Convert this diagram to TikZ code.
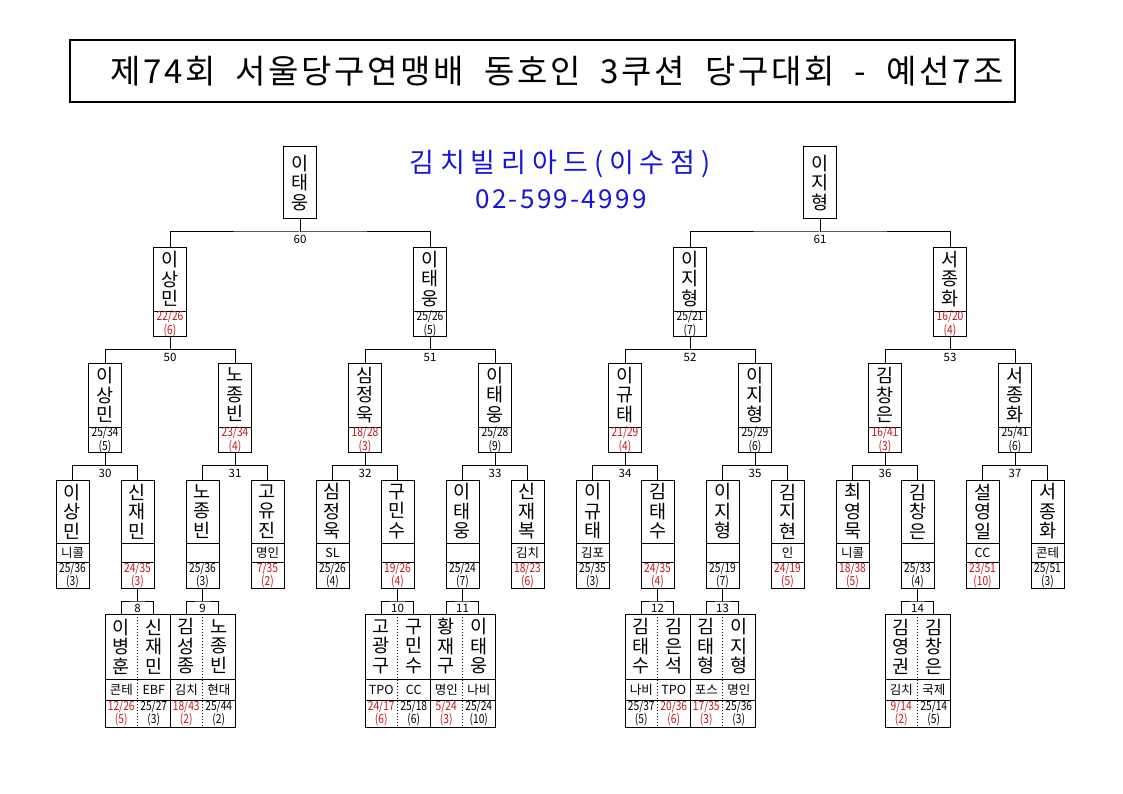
\documentclass[tikz,border=0pt]{standalone}
\usepackage{fontspec}
\setmainfont{Noto Sans CJK KR}
\newfontfamily\titlefont[LetterSpace=8,WordSpace=2]{Noto Sans CJK KR}
\newfontfamily\shopfont[LetterSpace=22]{Noto Sans CJK KR}
\newfontfamily\phonefont[LetterSpace=9]{Noto Sans CJK KR}
\newfontfamily\scorefont[FakeStretch=0.82]{Noto Sans CJK KR}
\usetikzlibrary{positioning}
\definecolor{shopblue}{RGB}{20,20,220}
\definecolor{lossred}{RGB}{200,20,30}
\tikzset{
  box/.style={draw, outer sep=0pt, inner sep=0pt, minimum width=33pt, align=center},
  namebox/.style={box, minimum height=64pt, font=\fontsize{18.5}{19.5}\selectfont},
  clubbox/.style={box, minimum height=19pt, font=\fontsize{12.5}{13}\selectfont},
  scorebox/.style={box, minimum height=25pt, font=\scorefont\fontsize{12.5}{11.5}\selectfont},
  cell/.style={outer sep=0pt, inner sep=0pt, minimum width=32.5pt, align=center},
  cellname/.style={cell, minimum height=65pt, font=\fontsize{18.5}{19.5}\selectfont},
  cellclub/.style={cell, minimum height=21pt, font=\fontsize{12.5}{13}\selectfont},
  cellscore/.style={cell, minimum height=27pt, font=\scorefont\fontsize{12.5}{11.5}\selectfont},
  matchno/.style={inner sep=1pt, font=\fontsize{11.5}{11.5}\selectfont},
}
%% seeded box: id, x, top, name, score, colour
\newcommand{\seed}[6]{%
  \node[namebox, anchor=north] (#1) at (#2,#3) {#4};
  \node[scorebox, text=#6, below=0pt of #1] (#1s) {#5};}
%% first round box: id, x, name, club, score, colour
\newcommand{\entrant}[6]{%
  \node[namebox, minimum height=63pt, anchor=north] (#1) at (#2,480) {#3};
  \node[clubbox, below=0pt of #1] (#1c) {#4};
  \node[scorebox, minimum height=26pt, text=#6, below=0pt of #1c] (#1s) {#5};}
%% half of a qualifying pair: id, x, anchor, name, club, score, colour
\newcommand{\pairhalf}[7]{%
  \node[cellname, anchor=#3] (#1) at (#2,614) {#4};
  \node[cellclub, below=0pt of #1] (#1c) {#5};
  \node[cellscore, text=#7, below=0pt of #1c] (#1s) {#6};}
\newcommand{\pairframe}[2]{%
  \draw (#1.north west) rectangle (#2s.south east);
  \draw (#1.south west) -- (#2.south east);
  \draw (#1c.south west) -- (#2c.south east);
  \draw[dotted] (#1.north east) -- (#1s.south east);}
%% bracket: parent, left child, right child, match number
\newcommand{\bracket}[4]{%
  \draw (#1.south) -- ++(0,13) coordinate (j#4);
  \draw (#2.north) |- (j#4) -| (#3.north);
  \node[matchno, below=2pt] at (j#4) {#4};}
\begin{document}
\begin{tikzpicture}[x=1pt, y=-1pt, line width=1pt]
\useasboundingbox (0,0) rectangle (1123,794);
%% Title
\node[draw, line width=2pt, minimum width=945pt, minimum height=62pt, inner sep=0pt] (titlebox) at (542.5,71) {};
\node[font=\titlefont\fontsize{33}{33}\selectfont] (titletext) at (557,71) {제74회 서울당구연맹배 동호인 3쿠션 당구대회 - 예선7조};
\node[text=shopblue, font=\shopfont\fontsize{27}{27}\selectfont] (shop) at (560,164) {김치빌리아드(이수점)};
\node[text=shopblue, font=\phonefont\fontsize{26}{26}\selectfont] (phone) at (561,199) {02-599-4999};
%% Final
\node[namebox, minimum height=72pt, anchor=north] (m60) at (300,147) {이\\태\\웅};
\node[namebox, minimum height=72pt, anchor=north] (m61) at (820,147) {이\\지\\형};
%% Second level
\seed{m50}{170}{247}{이\\상\\민}{22/26\\(6)}{lossred}
\seed{m51}{430}{247}{이\\태\\웅}{25/26\\(5)}{black}
\seed{m52}{690}{247}{이\\지\\형}{25/21\\(7)}{black}
\seed{m53}{950}{247}{서\\종\\화}{16/20\\(4)}{lossred}
%% Third level
\seed{m30}{105}{363}{이\\상\\민}{25/34\\(5)}{black}
\seed{m31}{235}{363}{노\\종\\빈}{23/34\\(4)}{lossred}
\seed{m32}{365}{363}{심\\정\\욱}{18/28\\(3)}{lossred}
\seed{m33}{495}{363}{이\\태\\웅}{25/28\\(9)}{black}
\seed{m34}{625}{363}{이\\규\\태}{21/29\\(4)}{lossred}
\seed{m35}{755}{363}{이\\지\\형}{25/29\\(6)}{black}
\seed{m36}{885}{363}{김\\창\\은}{16/41\\(3)}{lossred}
\seed{m37}{1015}{363}{서\\종\\화}{25/41\\(6)}{black}
%% First round
\entrant{p1}{72.5}{이\\상\\민}{니콜}{25/36\\(3)}{black}
\entrant{p2}{137.5}{신\\재\\민}{}{24/35\\(3)}{lossred}
\entrant{p3}{202.5}{노\\종\\빈}{}{25/36\\(3)}{black}
\entrant{p4}{267.5}{고\\유\\진}{명인}{7/35\\(2)}{lossred}
\entrant{p5}{332.5}{심\\정\\욱}{SL}{25/26\\(4)}{black}
\entrant{p6}{397.5}{구\\민\\수}{}{19/26\\(4)}{lossred}
\entrant{p7}{462.5}{이\\태\\웅}{}{25/24\\(7)}{black}
\entrant{p8}{527.5}{신\\재\\복}{김치}{18/23\\(6)}{lossred}
\entrant{p9}{592.5}{이\\규\\태}{김포}{25/35\\(3)}{black}
\entrant{p10}{657.5}{김\\태\\수}{}{24/35\\(4)}{lossred}
\entrant{p11}{722.5}{이\\지\\형}{}{25/19\\(7)}{black}
\entrant{p12}{787.5}{김\\지\\현}{인}{24/19\\(5)}{lossred}
\entrant{p13}{852.5}{최\\영\\묵}{니콜}{18/38\\(5)}{lossred}
\entrant{p14}{917.5}{김\\창\\은}{}{25/33\\(4)}{black}
\entrant{p15}{982.5}{설\\영\\일}{CC}{23/51\\(10)}{lossred}
\entrant{p16}{1047.5}{서\\종\\화}{콘테}{25/51\\(3)}{black}
%% Qualifying pairs
\pairhalf{q8a}{137.5}{north east}{이\\병\\훈}{콘테}{12/26\\(5)}{lossred}
\pairhalf{q8b}{137.5}{north west}{신\\재\\민}{EBF}{25/27\\(3)}{black}
\pairhalf{q9a}{202.5}{north east}{김\\성\\종}{김치}{18/43\\(2)}{lossred}
\pairhalf{q9b}{202.5}{north west}{노\\종\\빈}{현대}{25/44\\(2)}{black}
\pairhalf{q10a}{397.5}{north east}{고\\광\\구}{TPO}{24/17\\(6)}{lossred}
\pairhalf{q10b}{397.5}{north west}{구\\민\\수}{CC}{25/18\\(6)}{black}
\pairhalf{q11a}{462.5}{north east}{황\\재\\구}{명인}{5/24\\(3)}{lossred}
\pairhalf{q11b}{462.5}{north west}{이\\태\\웅}{나비}{25/24\\(10)}{black}
\pairhalf{q12a}{657.5}{north east}{김\\태\\수}{나비}{25/37\\(5)}{black}
\pairhalf{q12b}{657.5}{north west}{김\\은\\석}{TPO}{20/36\\(6)}{lossred}
\pairhalf{q13a}{722.5}{north east}{김\\태\\형}{포스}{17/35\\(3)}{lossred}
\pairhalf{q13b}{722.5}{north west}{이\\지\\형}{명인}{25/36\\(3)}{black}
\pairhalf{q14a}{917.5}{north east}{김\\영\\권}{김치}{9/14\\(2)}{lossred}
\pairhalf{q14b}{917.5}{north west}{김\\창\\은}{국제}{25/14\\(5)}{black}
\pairframe{q8a}{q8b}
\pairframe{q9a}{q9b}
\pairframe{q10a}{q10b}
\pairframe{q11a}{q11b}
\pairframe{q12a}{q12b}
\pairframe{q13a}{q13b}
\pairframe{q14a}{q14b}
%% Brackets
\bracket{m60}{m50}{m51}{60}
\bracket{m61}{m52}{m53}{61}
\bracket{m50s}{m30}{m31}{50}
\bracket{m51s}{m32}{m33}{51}
\bracket{m52s}{m34}{m35}{52}
\bracket{m53s}{m36}{m37}{53}
\bracket{m30s}{p1}{p2}{30}
\bracket{m31s}{p3}{p4}{31}
\bracket{m32s}{p5}{p6}{32}
\bracket{m33s}{p7}{p8}{33}
\bracket{m34s}{p9}{p10}{34}
\bracket{m35s}{p11}{p12}{35}
\bracket{m36s}{p13}{p14}{36}
\bracket{m37s}{p15}{p16}{37}
\bracket{p2s}{q8a}{q8b}{8}
\bracket{p3s}{q9a}{q9b}{9}
\bracket{p6s}{q10a}{q10b}{10}
\bracket{p7s}{q11a}{q11b}{11}
\bracket{p10s}{q12a}{q12b}{12}
\bracket{p11s}{q13a}{q13b}{13}
\bracket{p14s}{q14a}{q14b}{14}
\end{tikzpicture}
\end{document}
